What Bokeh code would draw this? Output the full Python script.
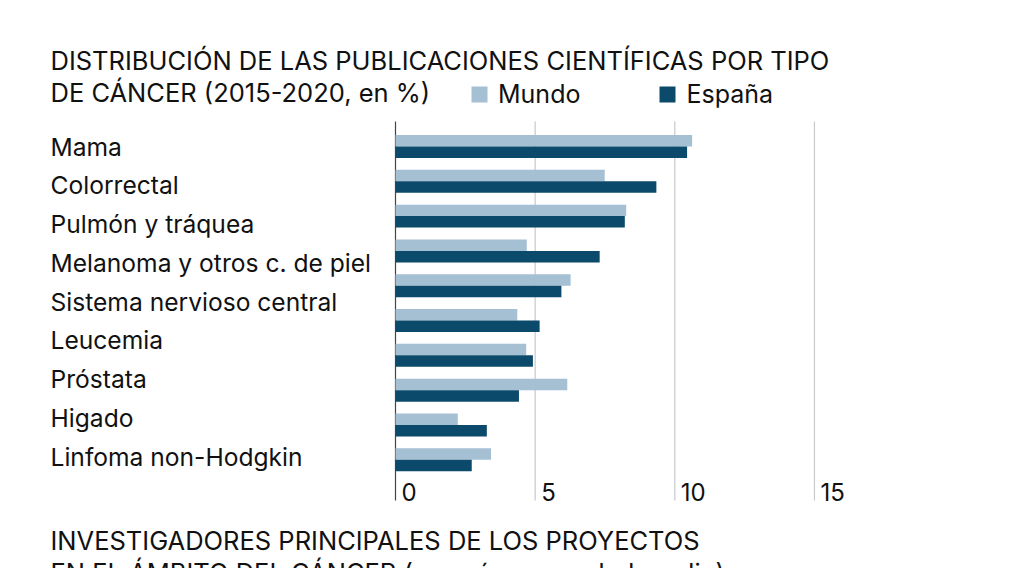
from bokeh.plotting import figure
from bokeh.models import Range1d, Legend, LegendItem
from bokeh.core.properties import value
from bokeh.embed import file_html
from bokeh.resources import INLINE

# ---- data ----
labels = ["Mama", "Colorrectal", "Pulmón y tráquea", "Melanoma y otros c. de piel",
          "Sistema nervioso central", "Leucemia", "Próstata", "Higado",
          "Linfoma non-Hodgkin"]
mundo = [10.62, 7.49, 8.26, 4.70, 6.27, 4.36, 4.68, 6.15, 2.23, 3.42]
espana = [10.44, 9.34, 8.21, 7.31, 5.94, 5.16, 4.92, 4.42, 3.27, 2.73]
ticks = [0, 5, 10, 15]
tick_labels = ["0", "5", "10", "15"]
title_lines = ["DISTRIBUCIÓN DE LAS PUBLICACIONES CIENTÍFICAS POR TIPO",
               "DE CÁNCER (2015-2020, en %)"]
next_lines = ["INVESTIGADORES PRINCIPALES DE LOS PROYECTOS",
              "EN EL ÁMBITO DEL CÁNCER (por género y edad medio)"]

# ---- layout (pixels) ----
W, H = 1000, 568
PX_X = 27.93          # px per unit on x
ZERO_X = 395          # px of x = 0
PX_Y = 34.81          # px per bar group
G0_Y = 146            # px of first group centre
LABEL_STEP = 38.75    # px between category labels
BAR_H = 0.33
FONT_NAME = "Inter"
FONT = value(FONT_NAME)
MUNDO_C = "#a5bfd3"
ESP_C = "#0b4a6a"

def dx(px):
    return (px - ZERO_X) / PX_X

def dy(py):
    return (py - G0_Y) / PX_Y

p = figure(width=W, height=H,
           x_range=Range1d(-ZERO_X / PX_X, (W - ZERO_X) / PX_X),
           y_range=Range1d((H - G0_Y) / PX_Y, -G0_Y / PX_Y),
           x_axis_location=None, y_axis_location=None,
           toolbar_location=None, output_backend="svg",
           min_border=0, outline_line_color=None,
           background_fill_color="white", border_fill_color="white")
p.grid.visible = False

# gridlines
p.segment(x0=ticks, x1=ticks, y0=[dy(121)] * len(ticks), y1=[dy(500)] * len(ticks),
          line_color=["#444444"] + ["#c9c9c9"] * (len(ticks) - 1), line_width=1.2)

idx = list(range(len(mundo)))
r1 = p.hbar(y=[i - BAR_H / 2 for i in idx], left=0, right=mundo, height=BAR_H,
            fill_color=MUNDO_C, line_color=None)
r2 = p.hbar(y=[i + BAR_H / 2 for i in idx], left=0, right=espana, height=BAR_H,
            fill_color=ESP_C, line_color=None)

# category labels
step = LABEL_STEP / PX_Y
p.text(x=[dx(50)] * len(labels), y=[j * step for j in range(len(labels))], text=labels,
       text_font=FONT, text_font_size="24.6px", text_baseline="middle",
       text_align="left", text_color="#111111")

# tick labels
p.text(x=ticks, y=[dy(491)] * len(ticks), text=tick_labels, x_offset=6,
       text_font=FONT, text_font_size="24px", text_baseline="middle",
       text_align="left", text_color="#111111")

# titles
p.text(x=[dx(50)] * 2, y=[dy(60), dy(92)], text=title_lines,
       text_font=FONT, text_font_size="25.5px", text_baseline="middle",
       text_align="left", text_color="#111111")
p.text(x=[dx(50)] * 2, y=[dy(540), dy(572)], text=next_lines,
       text_font=FONT, text_font_size="25.5px", text_baseline="middle",
       text_align="left", text_color="#111111")

legend = Legend(items=[LegendItem(label="Mundo", renderers=[r1]),
                       LegendItem(label="España", renderers=[r2])],
                orientation="horizontal", location=(469, 459),
                glyph_width=20, glyph_height=20, label_height=20,
                label_standoff=9, spacing=77, padding=0, margin=0,
                border_line_color=None, background_fill_alpha=0,
                label_text_font=FONT_NAME, label_text_font_size="25px",
                label_text_color="#111111")
p.add_layout(legend)

open("out.html", "w").write(file_html(p, INLINE))
